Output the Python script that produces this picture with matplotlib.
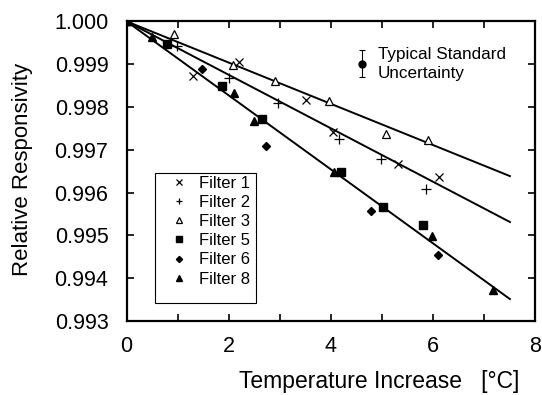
import matplotlib
matplotlib.use("Agg")
import matplotlib.pyplot as plt
import numpy as np
from matplotlib.ticker import MultipleLocator, FuncFormatter
from matplotlib.patches import Rectangle

plt.rcParams['font.family'] = ['Liberation Sans', 'DejaVu Sans']

# Data
f1_x = [0.0, 1.30, 2.21, 3.51, 4.03, 5.31, 6.12]
f1_y = [1.0, 0.99873, 0.99906, 0.99816, 0.99742, 0.99667, 0.99637]
f2_x = [0.0, 0.98, 2.01, 2.96, 4.15, 4.97, 5.86]
f2_y = [1.0, 0.99943, 0.99867, 0.99809, 0.99724, 0.99679, 0.99608]
f3_x = [0.0, 0.92, 2.09, 2.91, 3.97, 5.08, 5.89]
f3_y = [1.0, 0.99970, 0.99897, 0.99861, 0.99815, 0.99736, 0.99722]
f5_x = [0.0, 0.79, 1.87, 2.65, 4.20, 5.02, 5.80]
f5_y = [1.0, 0.99947, 0.99850, 0.99772, 0.99647, 0.99566, 0.99525]
f6_x = [0.0, 1.48, 2.72, 4.79, 6.10]
f6_y = [1.0, 0.99889, 0.99708, 0.99558, 0.99455]
f8_x = [0.0, 0.49, 2.11, 2.50, 4.05, 5.98, 7.17]
f8_y = [1.0, 0.99963, 0.99833, 0.99768, 0.99648, 0.99498, 0.99373]

# Fitted lines through (0, 1): slopes per °C
fit_slopes = [-0.000482, -0.000625, -0.000865]
fit_xmax = 7.5

# Typical standard uncertainty marker
unc_x, unc_y, unc_err = 4.60, 0.99901, 0.00032

fig = plt.figure(figsize=(5.42, 3.95), dpi=100)
ax = fig.add_axes([0.2334, 0.1873, 0.7546, 0.7587])

xf = np.array([0.0, fit_xmax])
for s in fit_slopes:
    ax.plot(xf, 1.0 + s * xf, color='black', lw=1.4, zorder=2)

ax.plot(f1_x, f1_y, ls='none', marker='x', ms=6, mew=0.9, color='black', label='Filter 1', zorder=3)
ax.plot(f2_x, f2_y, ls='none', marker='+', ms=7, mew=0.9, color='black', label='Filter 2', zorder=3)
ax.plot(f3_x, f3_y, ls='none', marker='^', ms=6, mew=0.9, mfc='white', mec='black', label='Filter 3', zorder=3)
ax.plot(f5_x, f5_y, ls='none', marker='s', ms=5.5, color='black', label='Filter 5', zorder=3)
ax.plot(f6_x, f6_y, ls='none', marker='D', ms=4.5, color='black', label='Filter 6', zorder=3)
ax.plot(f8_x, f8_y, ls='none', marker='^', ms=6, color='black', label='Filter 8', zorder=3)

ax.errorbar([unc_x], [unc_y], yerr=[unc_err], fmt='o', ms=5, color='black',
            ecolor='black', elinewidth=0.8, capsize=2.5, capthick=0.8, zorder=3)
ax.text(4.92, unc_y + 0.000106, 'Typical Standard', fontsize=12.3, va='baseline', ha='left')
ax.text(4.92, unc_y - 0.000329, 'Uncertainty', fontsize=12.3, va='baseline', ha='left')

ax.set_xlim(0, 8)
ax.set_ylim(0.993, 1.000)
ax.xaxis.set_major_locator(MultipleLocator(1))
ax.xaxis.set_major_formatter(FuncFormatter(lambda v, p: '%d' % v if int(round(v)) % 2 == 0 else ''))
ax.yaxis.set_major_locator(MultipleLocator(0.001))
ax.yaxis.set_major_formatter(FuncFormatter(lambda v, p: '%.3f' % v))
ax.tick_params(direction='in', length=5, width=1.2, top=True, right=True,
               labelsize=15.5, pad=11)
ax.tick_params(axis='y', pad=13)
for sp in ax.spines.values():
    sp.set_linewidth(1.6)

ax.set_xlabel('Temperature Increase   [°C]', fontsize=16.5, va='baseline')
ax.xaxis.set_label_coords(0.617, -0.2233)
ax.set_ylabel('Relative Responsivity', fontsize=16)
ax.yaxis.set_label_coords(-0.2286, 0.505)

leg = ax.legend(loc='upper left', bbox_to_anchor=(0.108, 0.485),
                fontsize=12, frameon=False,
                borderaxespad=0, borderpad=0, handlelength=1.0, handletextpad=0.7,
                labelspacing=0.25, markerscale=0.7)
ax.add_patch(Rectangle((0.070, 0.06), 0.247, 0.433, transform=ax.transAxes,
                       fill=False, edgecolor='black', lw=0.8, zorder=4))

fig.savefig('out.png', dpi=100)
